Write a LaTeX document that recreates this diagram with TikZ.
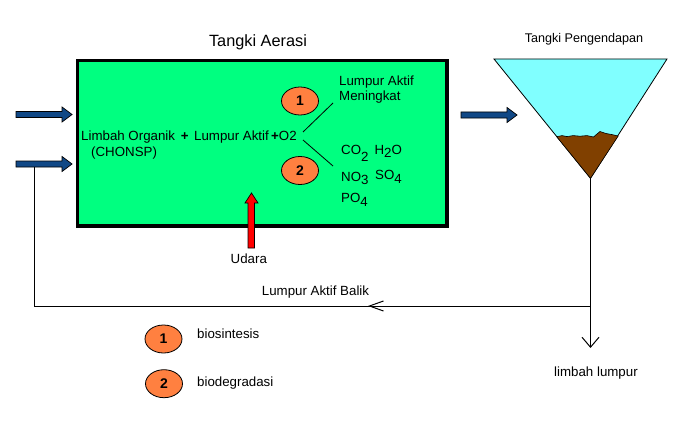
\documentclass[tikz,border=0pt]{standalone}
\usepackage{fontspec}
\setmainfont{Liberation Sans}
\usetikzlibrary{shapes.geometric,arrows.meta}
\definecolor{tankgreen}{RGB}{0,255,128}
\definecolor{numorange}{RGB}{255,128,64}
\definecolor{watercyan}{RGB}{128,255,255}
\definecolor{sludgebrown}{RGB}{128,64,0}
\definecolor{arrowblue}{RGB}{16,72,134}
\newcommand\bluearrow[3]{%
  \filldraw[arrowblue,draw=black,line width=0.7] (#1,#3-3) -- (#2-10,#3-3) -- (#2-10,#3-7.5) -- (#2,#3) -- (#2-10,#3+7.5) -- (#2-10,#3+3) -- (#1,#3+3) -- cycle;}
\begin{document}
\begin{tikzpicture}[x=1pt,y=-1pt,
  txt/.style={inner sep=0pt,anchor=base west,font=\fontsize{13.3}{15}\selectfont},
  numcirc/.style={ellipse,draw=black,line width=0.8,fill=numorange,minimum width=37pt,minimum height=28pt,inner sep=0pt,font=\fontsize{14}{16}\selectfont\bfseries},
  conn/.style={line width=1pt,draw=black}]
\useasboundingbox (0,0) rectangle (686,428);
\fill[white] (0,0) rectangle (686,428);
% aeration tank
\node[draw=black,line width=3.5pt,fill=tankgreen,minimum width=369.5pt,minimum height=165.5pt,inner sep=0pt,anchor=north west] (tank) at (75.75,58.75) {};
\node[inner sep=0pt,anchor=base,font=\fontsize{16.3}{18}\selectfont] (tanktitle) at (258,46.7) {Tangki Aerasi};
% inlet arrows
\bluearrow{16}{72}{114.5}
\bluearrow{16}{72}{164}
\bluearrow{461}{517}{115}
% air arrow
\filldraw[fill=red,draw=black,line width=0.7] (248,248) -- (248,203) -- (245,203) -- (251.5,193) -- (258,203) -- (254.5,203) -- (254.5,248) -- cycle;
\node[txt] (udara) at (230.5,263.3) {Udara};
% reaction text
\node[txt] (limbah) at (81,140.7) {Limbah Organik};
\node[inner sep=0pt,anchor=base,font=\fontsize{13.3}{15}\selectfont\bfseries] (plus1) at (184.7,140.7) {+};
\node[txt] (lumpur) at (194,140.7) {Lumpur Aktif};
\node[txt] (otwo) at (271,140.7) {\textbf{+}O2};
\node[txt] (chonsp) at (91,156.7) {(CHONSP)};
\coordinate (split1) at (303,132);
\coordinate (split2) at (303,140);
\node[txt] (meningkat1) at (339,85) {Lumpur Aktif};
\node[txt] (meningkat2) at (339,100.7) {Meningkat};
\coordinate (prodA) at (333,103);
\coordinate (prodB) at (333,166);
\draw[line width=0.8] (split1) -- (prodA);
\draw[line width=0.8] (split2) -- (prodB);
\node[txt] (co2) at (341,154.3) {CO\raisebox{-7pt}{2}};
\node[txt] (h2o) at (374.3,154.3) {H\raisebox{-3.3pt}{2}O};
\node[txt] (no3) at (341,181.2) {NO\raisebox{-3pt}{3}};
\node[txt] (so4) at (375,179.3) {SO\raisebox{-4.7pt}{4}};
\node[txt] (po4) at (341,202.7) {PO\raisebox{-4pt}{4}};
\node[numcirc] (c1) at (300,101) {1};
\node[numcirc] (c2) at (300,170.5) {2};
% settling tank
\node[inner sep=0pt,anchor=base,font=\fontsize{12.6}{15}\selectfont] (settitle) at (584,42.7) {Tangki Pengendapan};
\filldraw[fill=watercyan,draw=black,line width=0.8] (494,59) -- (667,59) -- (590.5,178.3) -- cycle;
\filldraw[fill=sludgebrown,draw=black,line width=0.6] (556.7,136.7) -- (562,135.6) -- (567,136.6) -- (573,135.6) -- (580,136.2) -- (587,135.6) -- (593.5,137) -- (600,131.5) -- (606,133.5) -- (612,134.6) -- (618.2,136) -- (590.5,178.3) -- cycle;
\coordinate (apex) at (590.5,178.3);
\coordinate (junction) at (590.5,306);
\coordinate (waste) at (590.5,348);
\coordinate (corner) at (34,306);
\coordinate (inlet2) at (34,167);
\draw[conn] (apex) -- (junction);
\draw[conn,-{Straight Barb[length=10pt,width=17pt,line width=1pt]}] (junction) -- (waste);
\draw[conn] (junction) -- (corner) -- (inlet2);
\coordinate (ret) at (369.5,306);
\draw[conn] ([xshift=14pt,yshift=-5pt]ret) -- (ret) -- ([xshift=14pt,yshift=5pt]ret);
\node[txt] (balik) at (261.7,295) {Lumpur Aktif Balik};
\node[txt] (limbahlumpur) at (554,376) {limbah lumpur};
% legend
\node[numcirc] (l1) at (163.5,339) {1};
\node[numcirc] (l2) at (164,383.7) {2};
\node[txt] (bios) at (197,338.3) {biosintesis};
\node[txt] (biod) at (197,386) {biodegradasi};
\end{tikzpicture}
\end{document}
